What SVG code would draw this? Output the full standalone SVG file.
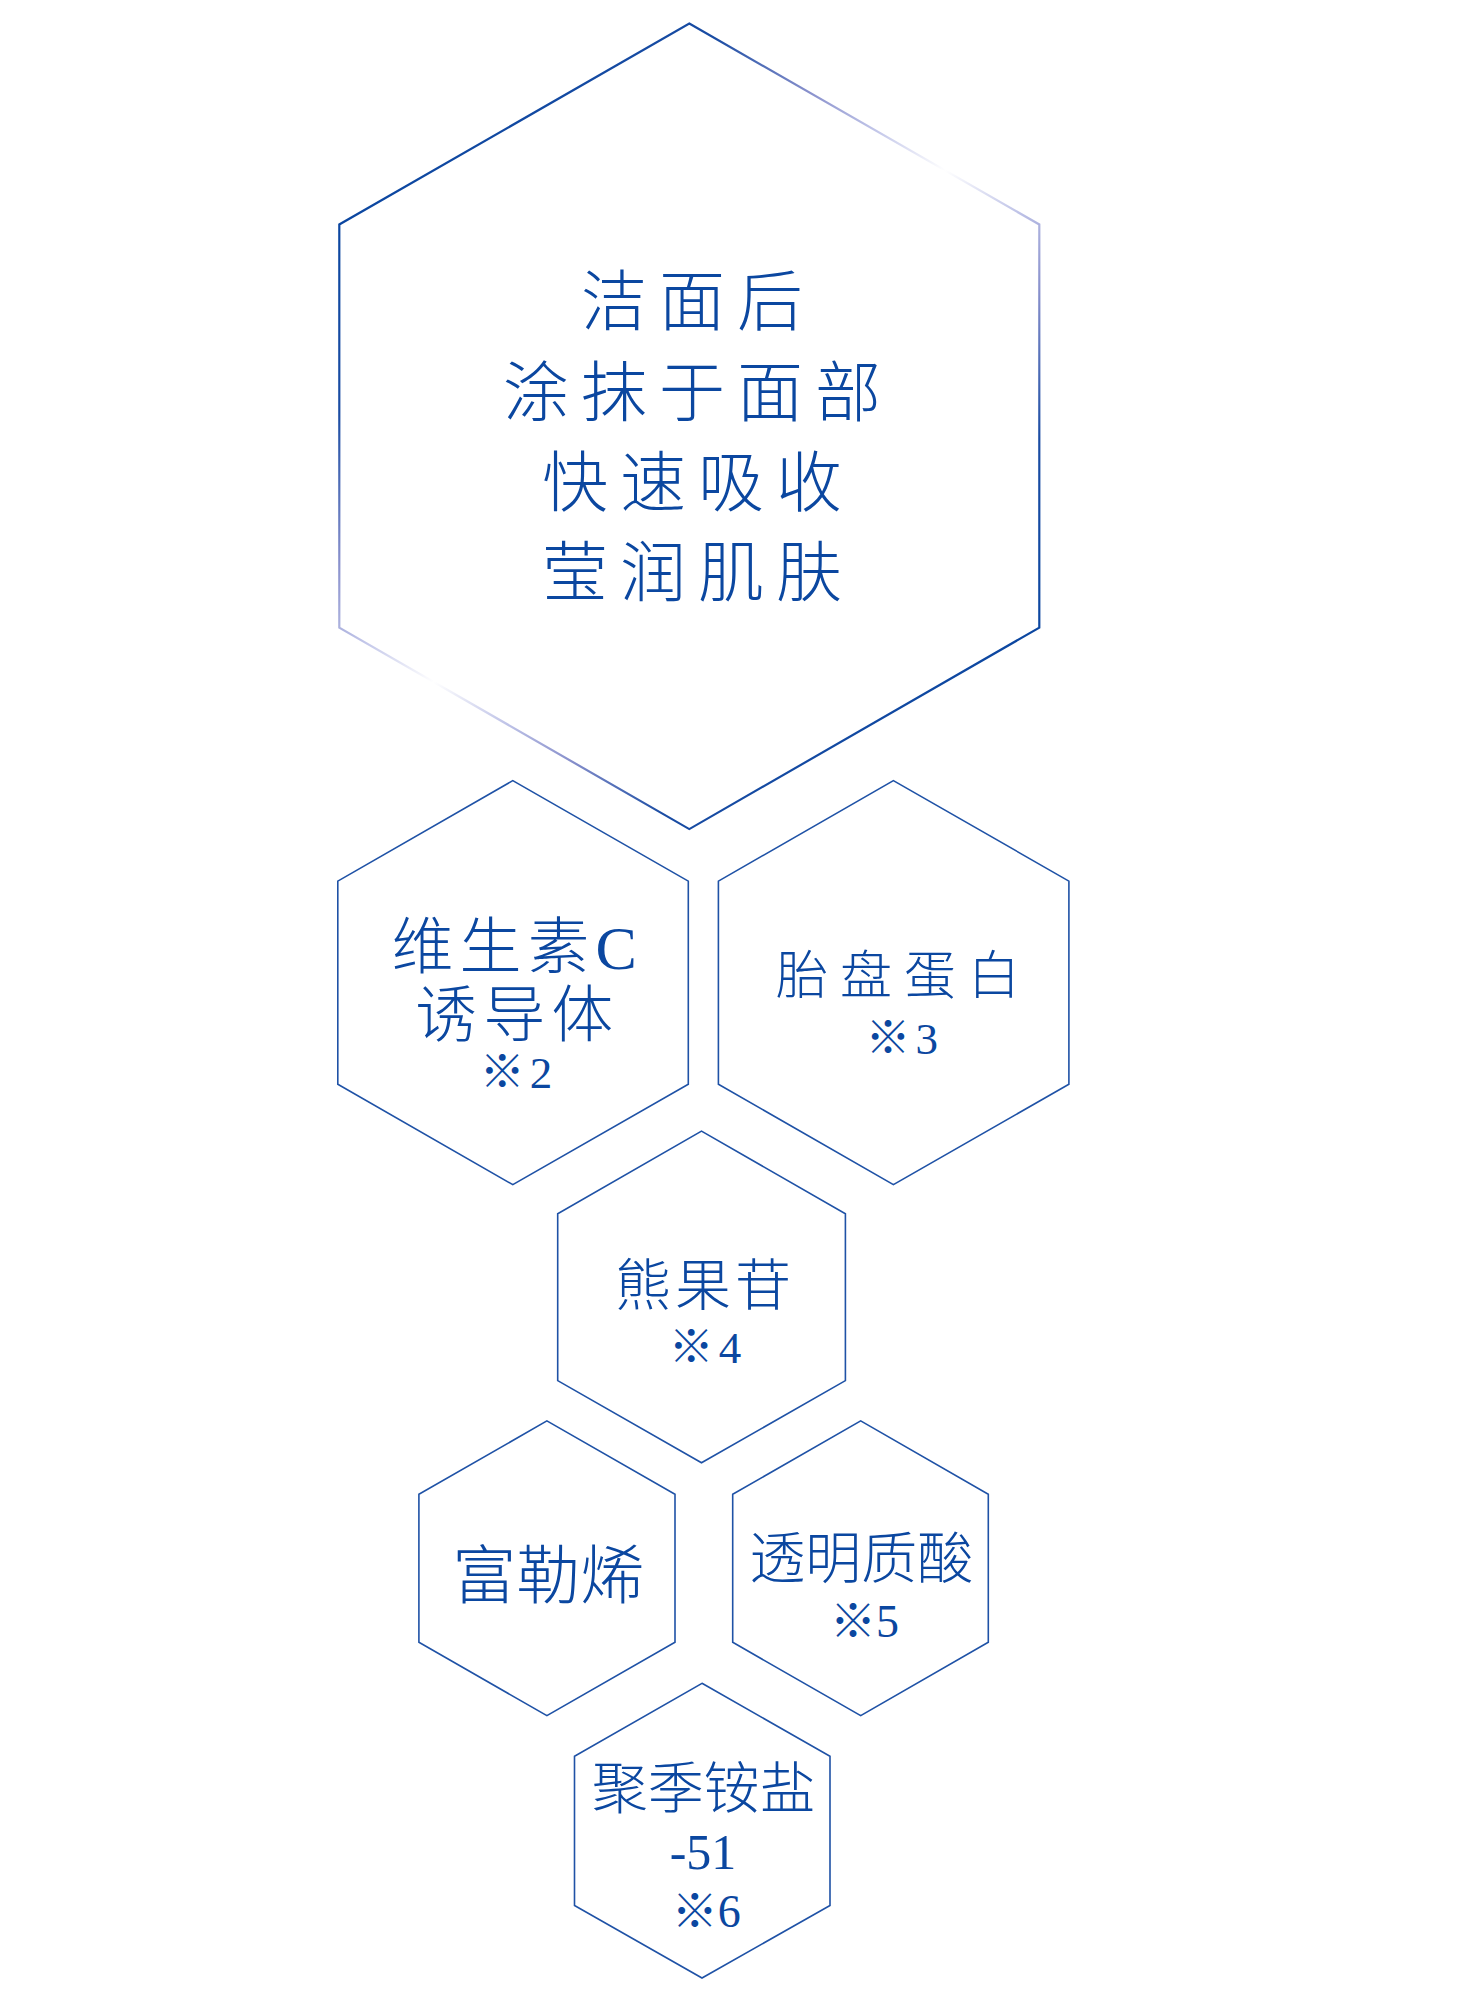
<svg xmlns="http://www.w3.org/2000/svg" width="1466" height="2000" viewBox="0 0 1466 2000">
<style>
.hex{fill:none;stroke:#1f52a6;stroke-width:1.6;stroke-linejoin:miter}
.t{fill:#0b47a0;font-family:"Liberation Serif","Noto Sans CJK SC",serif;font-weight:300;text-anchor:middle}
</style>
<defs>
<linearGradient id="g" gradientUnits="userSpaceOnUse" x1="406.3" y1="143.3" x2="972.3" y2="709.3">
<stop offset="0" stop-color="#0a46a0"/>
<stop offset="0.18" stop-color="#1a4ca3"/>
<stop offset="0.31" stop-color="#8890cc"/>
<stop offset="0.4" stop-color="#c0c4e8"/>
<stop offset="0.5" stop-color="#ffffff"/>
<stop offset="0.6" stop-color="#c0c4e8"/>
<stop offset="0.69" stop-color="#8890cc"/>
<stop offset="0.82" stop-color="#1a4ca3"/>
<stop offset="1" stop-color="#0a46a0"/>
</linearGradient>
</defs>
<rect width="1466" height="2000" fill="#ffffff"/>
<g id="connectors"></g>
<g id="main">
<polygon points="689.3,23.5 1039.3,224.5 1039.3,627.6 689.3,829.1 339.3,627.6 339.3,224.5" fill="none" stroke="url(#g)" stroke-width="2.2"/>
<text class="t" font-size="66" letter-spacing="12" x="698" y="325">洁面后</text>
<text class="t" font-size="66" letter-spacing="12" x="698" y="416">涂抹于面部</text>
<text class="t" font-size="66" letter-spacing="12" x="698" y="505.5">快速吸收</text>
<text class="t" font-size="66" letter-spacing="12" x="698" y="596">莹润肌肤</text>
</g>
<g id="vitc">
<polygon class="hex" points="512.8,780.6 688.3,881.1 688.3,1084.2 512.8,1184.7 337.8,1084.2 337.8,881.1"/>
<text class="t" font-size="62" letter-spacing="6" x="517.3" y="969">维生素C</text>
<text class="t" font-size="62" letter-spacing="6" x="517.3" y="1037">诱导体</text>
<text class="t" font-size="45" letter-spacing="5" x="518.5" y="1088">※2</text>
</g>
<g id="placenta">
<polygon class="hex" points="893.4,780.6 1068.9,881.1 1068.9,1084.2 893.4,1184.7 718.4,1084.2 718.4,881.1"/>
<text class="t" font-size="52" letter-spacing="12" x="904" y="994">胎盘蛋白</text>
<text class="t" font-size="45" letter-spacing="5" x="904.3" y="1053.6">※3</text>
</g>
<g id="arbutin">
<polygon class="hex" points="701.5,1131.1 845.4,1213.8 845.4,1380.6 701.5,1462.8 557.7,1380.6 557.7,1213.8"/>
<text class="t" font-size="56" letter-spacing="4" x="705" y="1305">熊果苷</text>
<text class="t" font-size="45" letter-spacing="5" x="707.5" y="1363">※4</text>
</g>
<g id="fullerene">
<polygon class="hex" points="546.9,1420.9 675,1494.3 675,1642.3 546.9,1715.7 418.9,1642.3 418.9,1494.3"/>
<text class="t" font-size="64" x="548.2" y="1598">富勒烯</text>
</g>
<g id="hyaluronic">
<polygon class="hex" points="860.7,1420.9 988.3,1494.3 988.3,1642.3 860.7,1715.7 732.7,1642.3 732.7,1494.3"/>
<text class="t" font-size="56" x="861.2" y="1578">透明质酸</text>
<text class="t" font-size="46" x="864.6" y="1637">※5</text>
</g>
<g id="polyquaternium">
<polygon class="hex" points="702,1683.3 830,1756.3 830,1905.5 702,1978 574.5,1905.5 574.5,1756.3"/>
<text class="t" font-size="56" x="703.8" y="1808">聚季铵盐</text>
<text class="t" font-size="50" x="703" y="1869">-51</text>
<text class="t" font-size="46" x="706.3" y="1927">※6</text>
</g>
</svg>
